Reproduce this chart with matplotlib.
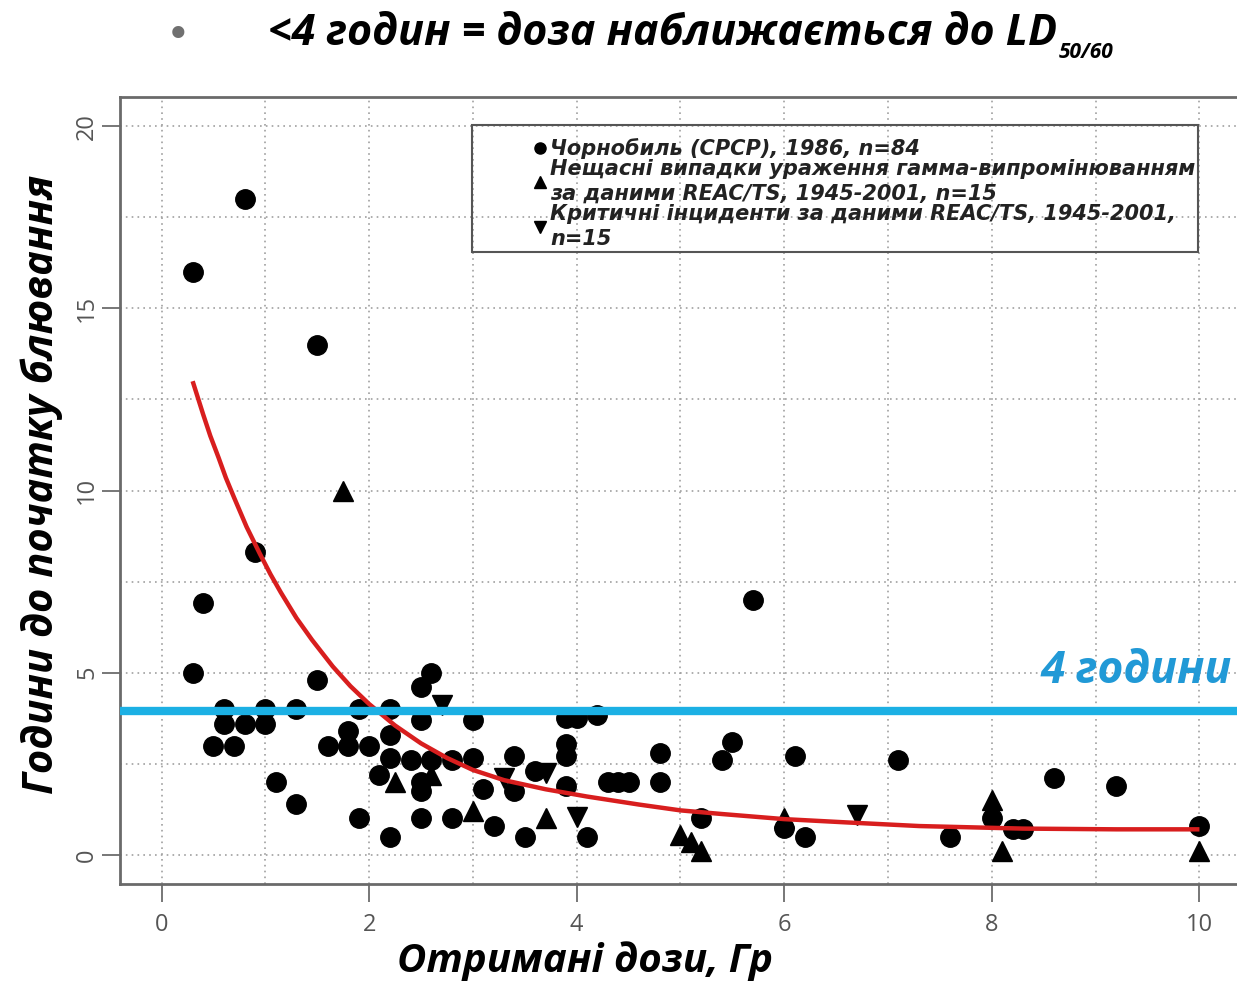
"""Time to onset of vomiting vs received dose (Chernobyl + REAC/TS cases)."""

import matplotlib.pyplot as plt
from matplotlib.lines import Line2D
from matplotlib.patches import Rectangle
from matplotlib.ticker import MultipleLocator

# Chernobyl (USSR), 1986 -- circles
chern_dose = [0.3, 0.8, 1.5, 0.9, 0.4, 5.7,
              0.3, 1.5, 0.6, 1.0, 1.3, 0.6, 0.8, 1.0, 0.5, 0.7, 1.1, 1.3,
              1.6, 1.8, 2.0, 1.8, 1.9, 2.2, 2.2, 2.5, 2.6, 2.5, 3.0,
              2.2, 2.4, 2.6, 2.8, 3.0, 2.1, 2.5, 2.5, 3.1, 1.9, 2.5, 2.8, 2.2, 3.2,
              3.9, 4.0, 4.2, 3.9, 3.9, 3.4, 3.6, 3.4, 3.9, 4.3, 4.4, 4.5, 4.8, 4.8,
              4.1, 3.5,
              5.5, 5.4, 6.1, 5.2, 6.0, 6.2, 7.1, 7.6, 8.0, 8.2, 8.3, 8.6, 9.2, 10.0]
chern_hours = [16.0, 18.0, 14.0, 8.3, 6.9, 7.0,
               5.0, 4.8, 4.0, 4.0, 4.0, 3.6, 3.6, 3.6, 3.0, 3.0, 2.0, 1.4,
               3.0, 3.0, 3.0, 3.4, 4.0, 4.0, 3.3, 4.6, 5.0, 3.7, 3.7,
               2.65, 2.6, 2.6, 2.6, 2.65, 2.2, 2.0, 1.75, 1.8, 1.0, 1.0, 1.0, 0.5, 0.8,
               3.75, 3.75, 3.85, 3.05, 2.7, 2.7, 2.3, 1.75, 1.9, 2.0, 2.0, 2.0, 2.8, 2.0,
               0.5, 0.5,
               3.1, 2.6, 2.7, 1.0, 0.75, 0.5, 2.6, 0.5, 1.0, 0.7, 0.7, 2.1, 1.9, 0.8]

# REAC/TS gamma accidents 1945-2001 -- up triangles
gamma_dose = [1.75, 2.25, 2.6, 3.0, 3.7, 5.0, 5.1, 5.2, 6.0, 8.0, 8.1, 10.0]
gamma_hours = [10.0, 2.0, 2.2, 1.2, 1.0, 0.55, 0.35, 0.1, 1.0, 1.5, 0.1, 0.1]

# REAC/TS criticality incidents 1945-2001 -- down triangles
crit_dose = [2.7, 3.3, 3.7, 4.0, 6.7]
crit_hours = [4.1, 2.1, 2.25, 1.05, 1.1]

# red fitted curve
fit_dose = [0.30, 0.35, 0.40, 0.47, 0.55, 0.62, 0.70, 0.82, 0.95, 1.05, 1.15,
            1.30, 1.45, 1.65, 1.82, 2.00, 2.25, 2.50, 2.75, 3.00, 3.30, 3.70,
            4.10, 4.60, 5.00, 5.40, 6.00, 6.60, 7.30, 8.30, 9.20, 10.0]
fit_hours = [13.0, 12.55, 12.1, 11.5, 10.9, 10.35, 9.8, 9.0, 8.25, 7.7, 7.2,
             6.5, 5.9, 5.17, 4.63, 4.14, 3.55, 3.06, 2.66, 2.33, 2.05, 1.8,
             1.6, 1.38, 1.22, 1.12, 0.98, 0.89, 0.79, 0.72, 0.70, 0.70]

THRESHOLD_H = 3.95

legend_labels = [
    "Чорнобиль (СРСР), 1986, n=84",
    "Нещасні випадки ураження гамма-випромінюванням\nза даними REAC/TS, 1945-2001, n=15",
    "Критичні інциденти за даними REAC/TS, 1945-2001,\nn=15",
]

HEAD_FONT = ["Open Sans", "Noto Sans", "DejaVu Sans"]
LEGEND_FONT = ["DejaVu Sans"]
BLUE = "#1cb0e4"
RED = "#d81e1e"


def main():
    fig = plt.figure(figsize=(12.37, 9.81), dpi=100)
    ax = fig.add_axes([0.0970, 0.0989, 0.9062, 0.8022])

    ms = 14
    ax.plot(chern_dose, chern_hours, "o", color="black", ms=ms, zorder=3)
    ax.plot(gamma_dose, gamma_hours, "^", color="black", ms=ms + 1, zorder=3)
    ax.plot(crit_dose, crit_hours, "v", color="black", ms=ms + 1, zorder=3)
    ax.plot(fit_dose, fit_hours, "-", color=RED, lw=3.2, zorder=4,
            solid_capstyle="butt", solid_joinstyle="round")
    ax.axhline(THRESHOLD_H, color=BLUE, lw=6, zorder=5)
    ax.text(8.47, 5.03, "4 години", color="#2199d6", fontsize=32,
            fontweight="bold", style="italic", family=HEAD_FONT,
            ha="left", va="center", zorder=6)

    ax.set_xlim(-0.4, 10.4)
    ax.set_ylim(-0.8, 20.8)
    ax.xaxis.set_major_locator(MultipleLocator(2))
    ax.xaxis.set_minor_locator(MultipleLocator(1))
    ax.yaxis.set_major_locator(MultipleLocator(5))
    ax.yaxis.set_minor_locator(MultipleLocator(2.5))
    ax.grid(True, which="both", color="#a0a0a0", lw=1.2,
            linestyle=(0, (1, 2.5)), zorder=0)
    ax.set_axisbelow(True)

    ax.tick_params(which="major", length=13, width=1.4, color="#777777",
                   labelsize=17, labelcolor="#555555")
    ax.tick_params(axis="x", pad=8)
    ax.tick_params(axis="y", labelrotation=90, pad=2)
    ax.tick_params(which="minor", length=0)
    for lab in ax.get_xticklabels() + ax.get_yticklabels():
        lab.set_family(HEAD_FONT)
    for lab in ax.get_yticklabels():
        lab.set_verticalalignment("center")
    for sp in ax.spines.values():
        sp.set_color("#6a6a6a")
        sp.set_linewidth(2)

    # legend: plain box with the entries inside
    ax.add_patch(Rectangle((0.314, 0.803), 0.6477, 0.1614, transform=ax.transAxes,
                           fill=False, edgecolor="#555555", lw=1.5, zorder=6))
    handles = [Line2D([], [], ls="", marker=m, color="black", ms=8)
               for m in ("o", "^", "v")]
    leg = ax.legend(handles, legend_labels, loc="upper left",
                    bbox_to_anchor=(0.3693, 0.9475), frameon=False,
                    borderpad=0, borderaxespad=0, handlelength=0.55,
                    handletextpad=0.22, labelspacing=0.0,
                    prop={"family": LEGEND_FONT, "size": 15, "weight": "bold",
                          "style": "italic"})
    for t in leg.get_texts():
        t.set_color("#222222")
        t.set_linespacing(1.3)
    leg.set_zorder(7)

    # heading
    fig.text(0.144, 0.963, "•", color="#707070", fontsize=30,
             ha="center", va="center", family="DejaVu Sans")
    title = fig.text(0.2167, 0.954, "<4 годин = доза наближається до LD",
                     fontsize=31, fontweight="bold", style="italic",
                     family=HEAD_FONT, ha="left", va="baseline")
    ax.annotate("50/60", xy=(1, 0.05), xycoords=title, xytext=(1, 0),
                textcoords="offset points", ha="left", va="center",
                fontsize=15, fontweight="bold", style="italic",
                family=HEAD_FONT, annotation_clip=False)

    fig.text(0.034, 0.506, "Години до початку блювання", rotation=90,
             fontsize=30, fontweight="bold", style="italic", family=HEAD_FONT,
             ha="center", va="center")
    fig.text(0.473, 0.009, "Отримані дози, Гр", fontsize=29,
             fontweight="bold", style="italic", family=HEAD_FONT,
             ha="center", va="baseline")

    fig.savefig("out.png", dpi=100)


if __name__ == "__main__":
    main()
